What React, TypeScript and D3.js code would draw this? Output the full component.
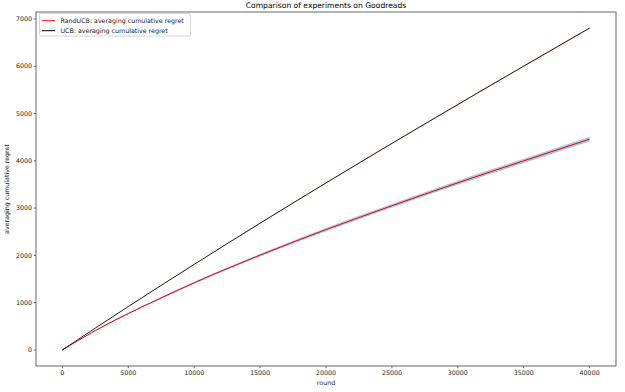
import React from "react";
import * as d3 from "d3";

// rounds sampled every 2500
const rounds = [0, 2500, 5000, 7500, 10000, 12500, 15000, 17500, 20000, 22500, 25000, 27500, 30000, 32500, 35000, 37500, 40000];
const randUcbRegret = [0, 410, 770, 1100, 1420, 1720, 2005, 2280, 2545, 2800, 3050, 3295, 3535, 3770, 4000, 4230, 4459];
const randUcbStd = [0, 8, 14, 18, 22, 25, 28, 31, 34, 36, 38, 40, 42, 44, 46, 48, 50];
const ucbRegret = [0, 462, 917, 1366, 1809, 2247, 2680, 3108, 3532, 3952, 4368, 4781, 5191, 5598, 6003, 6406, 6808];
const ucbStd = [0, 3, 5, 6, 7, 8, 9, 10, 11, 12, 12, 13, 13, 14, 14, 15, 15];

const xTicks = [0, 5000, 10000, 15000, 20000, 25000, 30000, 35000, 40000];
const yTicks = [0, 1000, 2000, 3000, 4000, 5000, 6000, 7000];

const W = 625, H = 392;
const left = 36, right = 616, top = 12, bottom = 366;
const font = "DejaVu Sans, sans-serif";

export default function App() {
  const x = d3.scaleLinear().domain([-2000, 42000]).range([left, right]);
  const y = d3.scaleLinear().domain([-340, 7148]).range([bottom, top]);

  const pts = (vals: number[]) => rounds.map((r, i) => [r, vals[i]] as [number, number]);
  const line = d3.line<[number, number]>().x(d => x(d[0])).y(d => y(d[1])).curve(d3.curveMonotoneX);
  const band = (vals: number[], sd: number[]) =>
    d3.area<number>()
      .x(i => x(rounds[i]))
      .y0(i => y(vals[i] - sd[i]))
      .y1(i => y(vals[i] + sd[i]))
      .curve(d3.curveMonotoneX)(d3.range(rounds.length));

  return (
    <svg width={W} height={H} style={{ position: "fixed", left: 0, top: 0, background: "#fff" }}>
      <text x={(left + right) / 2} y={8} textAnchor="middle" fontFamily={font} fontSize={7.6} fill="#000">
        Comparison of experiments on Goodreads
      </text>

      <path d={band(randUcbRegret, randUcbStd) || ""} fill="#1f77b4" fillOpacity={0.4} />
      <path d={band(ucbRegret, ucbStd) || ""} fill="#ff7f0e" fillOpacity={0.5} />
      <path d={line(pts(randUcbRegret)) || ""} fill="none" stroke="#ff0000" strokeWidth={1} />
      <path d={line(pts(ucbRegret)) || ""} fill="none" stroke="#000" strokeOpacity={0.85} strokeWidth={1} />

      <rect x={left} y={top} width={right - left} height={bottom - top} fill="none" stroke="#444" strokeWidth={0.8} />

      {xTicks.map(t => (
        <g key={"x" + t}>
          <line x1={x(t)} x2={x(t)} y1={bottom} y2={bottom + 2.2} stroke="#444" strokeWidth={0.8} />
          <text x={x(t)} y={bottom + 9} textAnchor="middle" fontFamily={font} fontSize={6.3} fill="#222">{t}</text>
        </g>
      ))}
      {yTicks.map(t => (
        <g key={"y" + t}>
          <line x1={left - 2.2} x2={left} y1={y(t)} y2={y(t)} stroke="#444" strokeWidth={0.8} />
          <text x={left - 4} y={y(t) + 2.2} textAnchor="end" fontFamily={font} fontSize={6.3} fill="#222">{t}</text>
        </g>
      ))}

      <text x={(left + right) / 2} y={385} textAnchor="middle" fontFamily={font} fontSize={6.3} fill="#222">round</text>
      <text transform={`translate(9,${(top + bottom) / 2}) rotate(-90)`} textAnchor="middle" fontFamily={font} fontSize={6.3} fill="#222">
        averaging cumulative regret
      </text>

      <g>
        <rect x={39.5} y={13.5} width={151} height={22.5} rx={1.5} fill="#fff" fillOpacity={0.8} stroke="#ccc" strokeWidth={0.8} />
        <line x1={42} x2={55} y1={20.7} y2={20.7} stroke="#ff0000" strokeWidth={1} />
        <text x={60.5} y={22.9} fontFamily={font} fontSize={6.3} fill="#222">RandUCB: averaging cumulative regret</text>
        <line x1={42} x2={55} y1={30.7} y2={30.7} stroke="#000" strokeWidth={1} />
        <text x={60.5} y={32.9} fontFamily={font} fontSize={6.3} fill="#222">UCB: averaging cumulative regret</text>
      </g>
    </svg>
  );
}
